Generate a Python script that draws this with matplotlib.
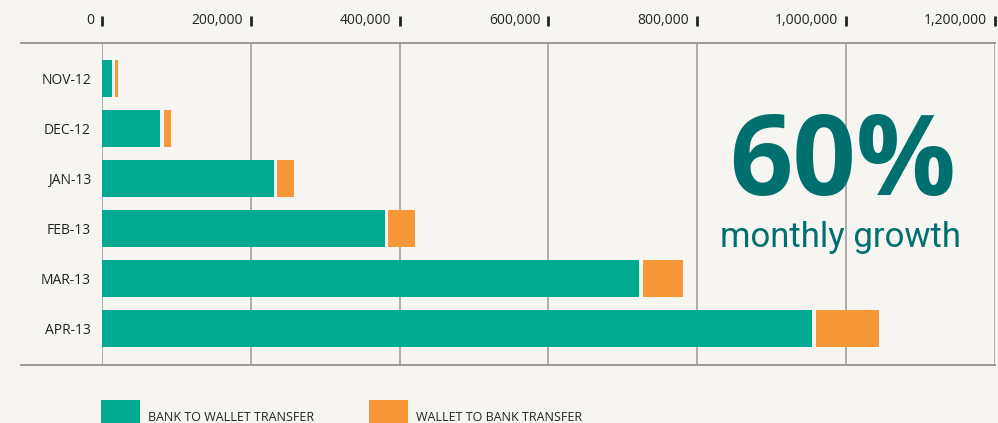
import matplotlib.pyplot as plt
import matplotlib.transforms as mtransforms
from matplotlib.lines import Line2D
from matplotlib.patches import Rectangle

months = ["NOV-12", "DEC-12", "JAN-13", "FEB-13", "MAR-13", "APR-13"]
bank_to_wallet = [13000, 78000, 230500, 380000, 722000, 954500]
wallet_to_bank = [3600, 9800, 23300, 35300, 53700, 85000]
x_ticks = [0, 200000, 400000, 600000, 800000, 1000000, 1200000]
x_tick_labels = ["0", "200,000", "400,000", "600,000", "800,000", "1,000,000", "1,200,000"]
legend_labels = ["BANK TO WALLET TRANSFER", "WALLET TO BANK TRANSFER"]

BG = "#f6f5f1"
GREEN = "#00aa90"
ORANGE = "#f79737"
TEAL = "#00706f"
GRID = "#9a9996"
TEXT = "#222222"
GAP = 4800  # small space between the two segments

plt.rcParams['font.family'] = ['Open Sans', 'DejaVu Sans']

W, H = 998, 423
fig = plt.figure(figsize=(W / 100, H / 100), dpi=100, facecolor=BG)
ax = fig.add_axes([102 / W, 1 - 365 / H, 893 / W, 322 / H])
ax.set_facecolor(BG)

y = list(range(len(months)))
ax.barh(y, bank_to_wallet, height=0.74, color=GREEN, zorder=3)
ax.barh(y, wallet_to_bank, left=[b + GAP for b in bank_to_wallet],
        height=0.74, color=ORANGE, zorder=3)

ax.set_xlim(0, 1200000)
ax.set_ylim(5.73, -0.71)

ax.set_xticks(x_ticks)
ax.set_xticklabels([])
ax.tick_params(axis='x', length=0)
ax.grid(axis='x', color=GRID, linewidth=1.1, zorder=0)
ax.set_yticks(y)
ax.set_yticklabels(months, fontsize=10, color=TEXT, fontweight='medium')
ax.tick_params(axis='y', length=0, pad=8)
for s in ax.spines.values():
    s.set_visible(False)

# top and bottom rules reaching out past the labels
for yy in (1 - 43 / H, 1 - 365 / H):
    fig.add_artist(Line2D([21 / W, 995 / W], [yy, yy], color=GRID, linewidth=1.4))

# tick labels above the chart, each followed by a short bar mark
trans = ax.get_xaxis_transform()
label_off = mtransforms.offset_copy(trans, fig=fig, x=-8, y=0, units='dots')
for xv, lab in zip(x_ticks, x_tick_labels):
    ax.text(xv, 1 + 22 / 322, lab, transform=label_off, ha='right', va='center',
            fontsize=10, color=TEXT, fontweight='medium', clip_on=False)
    ax.plot([xv, xv], [1 + 17 / 322, 1 + 27 / 322], transform=trans, color=TEXT,
            linewidth=2, clip_on=False, solid_capstyle='butt')

# headline figure
fig.text(843 / W, 1 - 166 / H, "60%", ha='center', va='center',
         fontsize=80, fontweight='bold', color=TEAL)
fig.text(840 / W, 1 - 237 / H, "monthly growth", ha='center', va='center',
         fontsize=25, fontweight='normal', color=TEAL,
         family=['Roboto', 'DejaVu Sans'])

# legend along the bottom edge, swatches run off the picture
for x0, col, lab in zip([101, 369], [GREEN, ORANGE], legend_labels):
    fig.add_artist(Rectangle((x0 / W, 1 - 430 / H), 38.5 / W, 30 / H,
                             facecolor=col, edgecolor='none'))
    fig.text((x0 + 47) / W, 1 - 421 / H, lab, ha='left', va='baseline',
             fontsize=9, fontweight='medium', color=TEXT)

fig.savefig("out.png", dpi=100, facecolor=BG)
